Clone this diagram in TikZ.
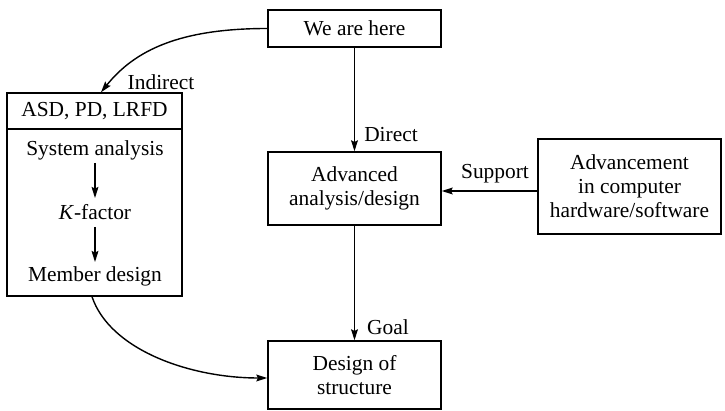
\documentclass[tikz,border=0pt]{standalone}
\usepackage{fontspec}
\setmainfont{Liberation Serif}
\usetikzlibrary{arrows.meta}
\begin{document}
\begin{tikzpicture}[x=0.5pt,y=-0.5pt,line width=0.7pt,
  font=\fontsize{10.7pt}{12pt}\selectfont,
  box/.style={draw,inner sep=0pt,align=center},
  lbl/.style={inner sep=0pt},
  arr/.style={-{Stealth[length=5.5pt,width=3.4pt,inset=0.8pt]}}]
\useasboundingbox (0,0) rectangle (725,411);
\node[box,minimum width=86.5pt,minimum height=18.5pt] (here) at (354.5,28.5) {We are here};
\node[box,minimum width=86.5pt,minimum height=36.5pt] (adv) at (354.5,188.5) {Advanced\\analysis/design};
\node[box,minimum width=86.5pt,minimum height=34pt] (des) at (354.5,375) {Design of\\structure};
\node[box,minimum width=91.5pt,minimum height=47.5pt] (hw) at (629.5,186.5) {Advancement\\in computer\\hardware/software};
\node[box,minimum width=87.5pt,minimum height=101.5pt] (left) at (94.5,194.5) {};
\node[lbl] (asd) at (94.5,111) {ASD, PD, LRFD};
\coordinate (sepy) at (0,129);
\draw (left.west |- sepy) -- (left.east |- sepy);
\node[lbl] (sys) at (95,150) {System analysis};
\node[lbl] (kf) at (95,212) {\textit{K}-factor};
\node[lbl] (mem) at (95,276) {Member design};
\draw[arr] (95,163) coordinate (s1) -- (95,198) coordinate (s2);
\draw[arr] (95,227) coordinate (k1) -- (95,262) coordinate (k2);
\draw[arr] (here.south) -- (adv.north);
\draw[arr] (adv.south) -- (des.north);
\draw[arr] ([yshift=-2.25pt]hw.west) -- ([yshift=-2.25pt]hw.west -| adv.east);
\draw[arr] (here.west) .. controls (180,28.5) and (135,50) .. ([xshift=3.25pt]left.north);
\draw[arr] ([xshift=-1.25pt]left.south) .. controls (110,350) and (190,378) .. (des.west |- 0,378);
\node[lbl] (ind) at (161,82) {Indirect};
\node[lbl] (dir) at (391,135) {Direct};
\node[lbl] (goal) at (388,327) {Goal};
\node[lbl] (sup) at (495,174) {Support};
\end{tikzpicture}
\end{document}
